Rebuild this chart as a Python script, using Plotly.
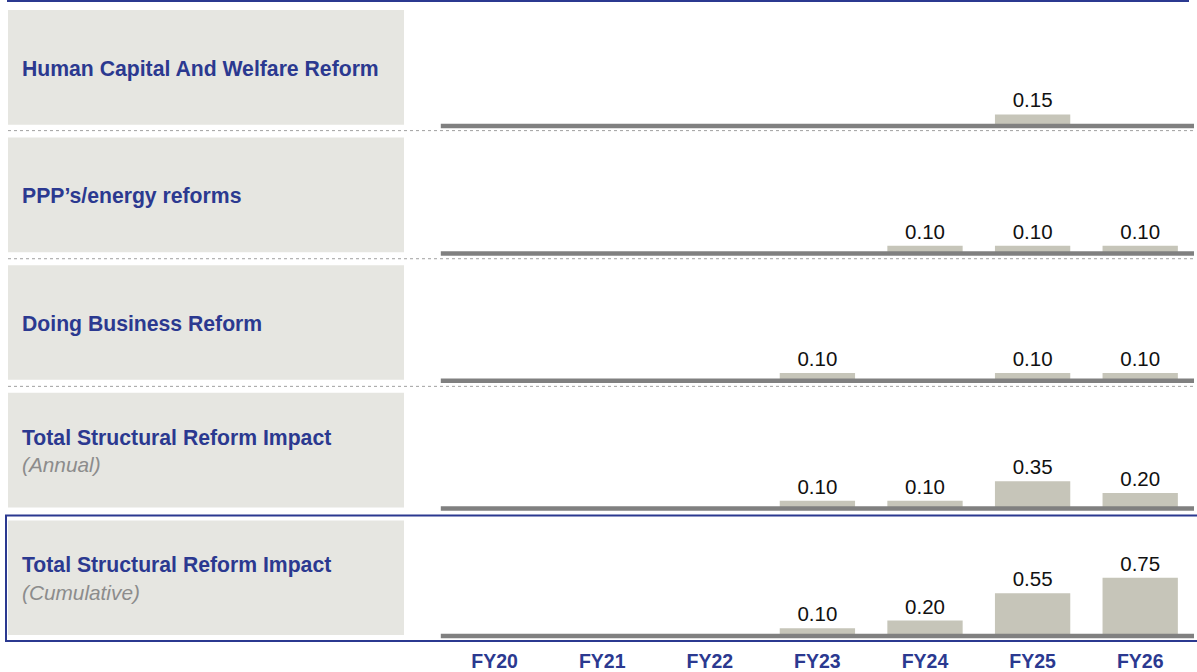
import plotly.graph_objects as go

W, H = 1197, 672

categories = ["FY20", "FY21", "FY22", "FY23", "FY24", "FY25", "FY26"]
row_titles = [
    "Human Capital And Welfare Reform",
    "PPP’s/energy reforms",
    "Doing Business Reform",
    "Total Structural Reform Impact",
    "Total Structural Reform Impact",
]
row_subtitles = [None, None, None, "(Annual)", "(Cumulative)"]

human_capital = [None, None, None, None, None, 0.15, None]
ppp_energy = [None, None, None, None, 0.10, 0.10, 0.10]
doing_business = [None, None, None, 0.10, None, 0.10, 0.10]
total_annual = [None, None, None, 0.10, 0.10, 0.35, 0.20]
total_cumulative = [None, None, None, 0.10, 0.20, 0.55, 0.75]
series = [human_capital, ppp_energy, doing_business, total_annual, total_cumulative]

NAVY = "#2B3990"
BAR = "#C6C5B9"
BASE = "#808080"
BOX = "#E6E6E1"
FONT = "Liberation Sans, Arial, sans-serif"

baselines = [126.5, 254.3, 382, 510, 638]   # pixel y of baselines
box_tops = [10, 138, 266, 394, 522]
box_bots = [125, 253, 381, 509, 637]
PXU = 78.0   # pixels per unit


def py(p):
    return 1 - p / H


def px(p):
    return p / W


fig = go.Figure()
layout = dict(
    width=W, height=H,
    margin=dict(l=0, r=0, t=0, b=0),
    paper_bgcolor="white", plot_bgcolor="rgba(0,0,0,0)",
    showlegend=False,
    font=dict(family=FONT),
    bargap=0.30,
)

shapes = []
annotations = []

for i, (vals, b) in enumerate(zip(series, baselines)):
    yname = "y" if i == 0 else f"y{i+1}"
    ykey = "yaxis" if i == 0 else f"yaxis{i+1}"
    fig.add_trace(go.Bar(
        x=categories, y=vals, xaxis="x", yaxis=yname,
        marker=dict(color=BAR, line=dict(width=0)),
        texttemplate="%{y:.2f}", textposition="outside",
        textfont=dict(size=20.5, color="#111111", family=FONT),
        cliponaxis=False, hoverinfo="skip",
    ))
    top_px = b - 116
    bot_px = b + 4
    layout[ykey] = dict(
        domain=[py(bot_px), py(top_px)],
        range=[-4 / PXU, 116 / PXU],
        visible=False, anchor="x", fixedrange=True,
    )
    # baseline
    shapes.append(dict(type="line", xref="x domain", yref=yname,
                       x0=0, x1=1, y0=0, y1=0,
                       line=dict(color=BASE, width=4.5), layer="above"))
    # label box
    shapes.append(dict(type="rect", xref="paper", yref="paper",
                       x0=px(8), x1=px(404), y0=py(box_bots[i]), y1=py(box_tops[i]),
                       fillcolor=BOX, line=dict(width=0), layer="below"))
    # titles
    if row_subtitles[i] is None:
        annotations.append(dict(xref="paper", yref="paper", x=px(20), y=py((box_tops[i] + box_bots[i]) / 2 + 1.5),
                                text=f"<b>{row_titles[i]}</b>", showarrow=False,
                                xanchor="left", yanchor="middle",
                                font=dict(size=21.2, color=NAVY, family=FONT)))
    else:
        c = (box_tops[i] + box_bots[i]) / 2
        annotations.append(dict(xref="paper", yref="paper", x=px(20), y=py(c - 12.5),
                                text=f"<b>{row_titles[i]}</b>", showarrow=False,
                                xanchor="left", yanchor="middle",
                                font=dict(size=21.2, color=NAVY, family=FONT)))
        annotations.append(dict(xref="paper", yref="paper", x=px(20), y=py(c + 14.5),
                                text=f"<i>{row_subtitles[i]}</i>", showarrow=False,
                                xanchor="left", yanchor="middle",
                                font=dict(size=20.8, color="#8C8C8C", family=FONT)))

# dotted separators
for sy in [131, 259.5, 387.5]:
    shapes.append(dict(type="line", xref="paper", yref="paper",
                       x0=px(8), x1=px(1193), y0=py(sy), y1=py(sy),
                       line=dict(color="#A0A0A0", width=1, dash="dot")))
# top blue line
shapes.append(dict(type="line", xref="paper", yref="paper",
                   x0=px(7), x1=px(1189), y0=py(1), y1=py(1),
                   line=dict(color=NAVY, width=2)))
# blue rectangle around last row
shapes.append(dict(type="rect", xref="paper", yref="paper",
                   x0=px(6), x1=px(1198), y0=py(643), y1=py(517),
                   line=dict(color=NAVY, width=2), fillcolor="rgba(0,0,0,0)"))

layout["xaxis"] = dict(
    domain=[px(440.8), px(1194)],
    anchor="y5", type="category", range=[-0.5, 6.5],
    showgrid=False, zeroline=False, showline=False, ticks="",
    tickfont=dict(size=19.5, color=NAVY, family=FONT),
    tickprefix="<b>", ticksuffix="</b>", ticklabelstandoff=7,
    fixedrange=True,
)
layout["shapes"] = shapes
layout["annotations"] = annotations
fig.update_layout(**layout)

fig.write_html(
    "out.html",
    config={"displayModeBar": False},
    post_script="document.body.style.margin='0';document.body.style.overflow='hidden';",
)
